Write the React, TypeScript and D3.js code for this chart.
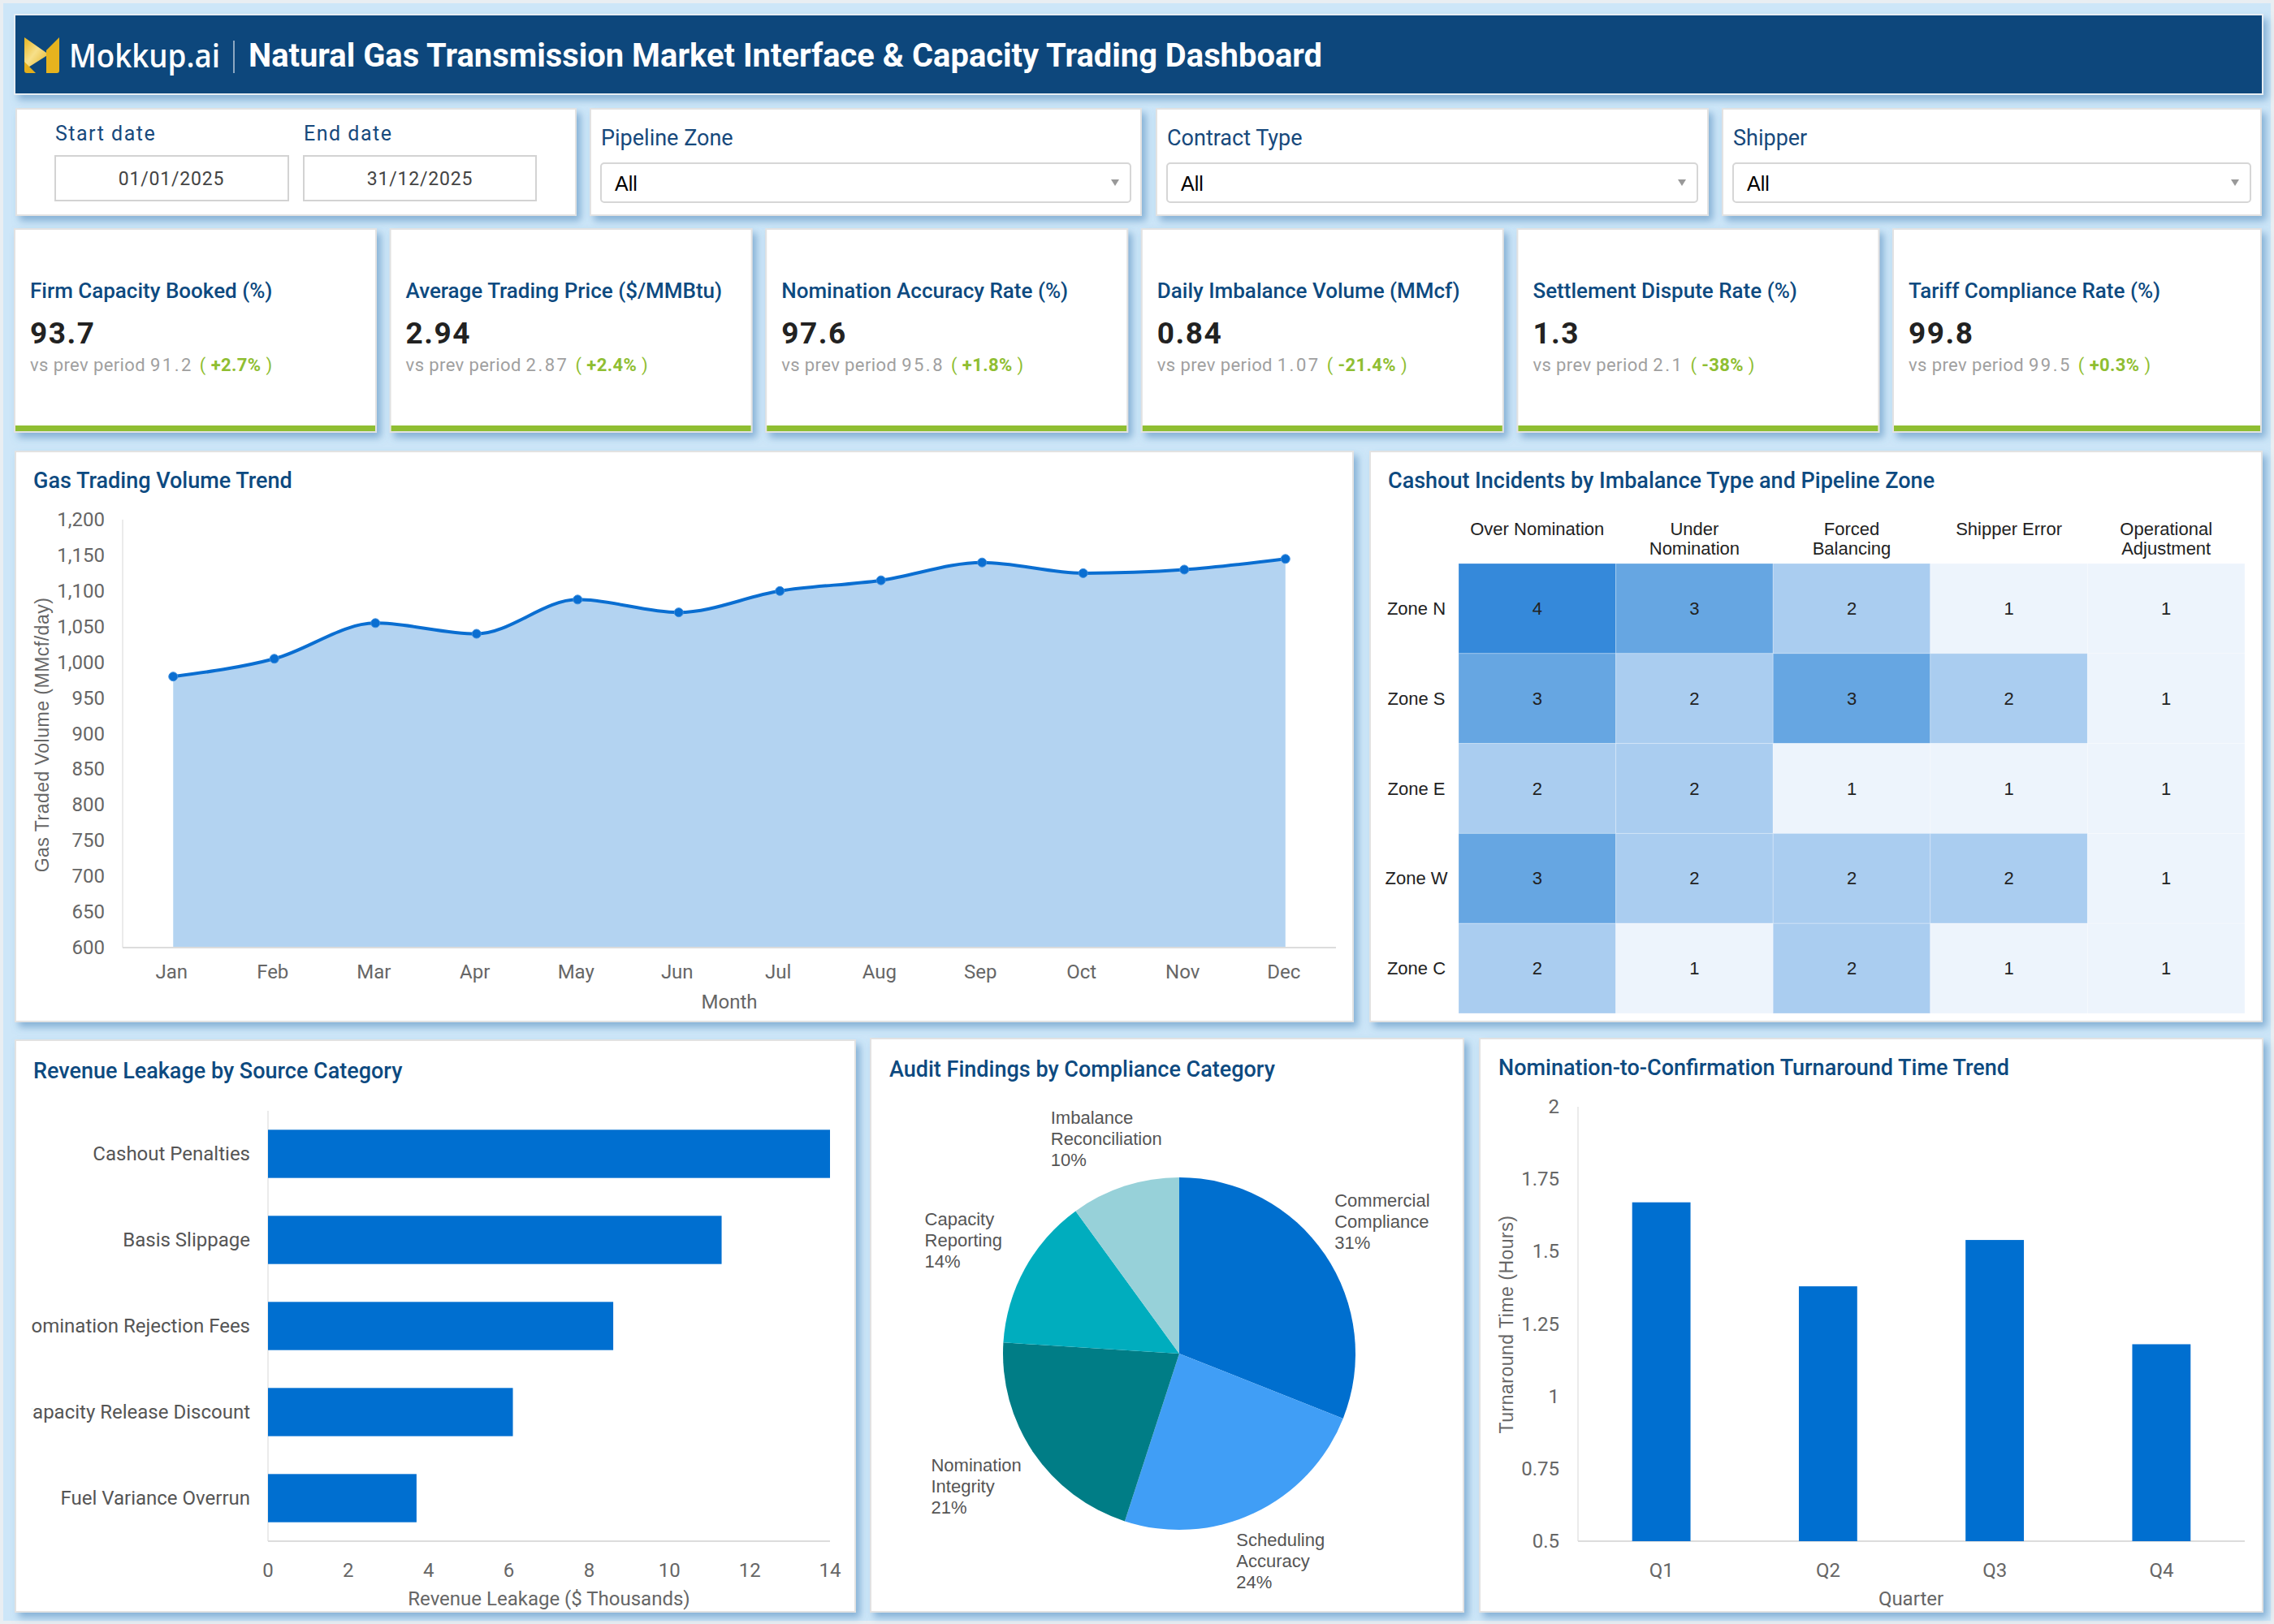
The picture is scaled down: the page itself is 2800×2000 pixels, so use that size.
import React from 'react';
import * as d3 from 'd3';

// ---------------- DATA ----------------
const kpiTitles = [
  'Firm Capacity Booked (%)',
  'Average Trading Price ($/MMBtu)',
  'Nomination Accuracy Rate (%)',
  'Daily Imbalance Volume (MMcf)',
  'Settlement Dispute Rate (%)',
  'Tariff Compliance Rate (%)',
];
const kpiValues = ['93.7', '2.94', '97.6', '0.84', '1.3', '99.8'];
const kpiPrev = ['91.2', '2.87', '95.8', '1.07', '2.1', '99.5'];
const kpiChange = ['+2.7%', '+2.4%', '+1.8%', '-21.4%', '-38%', '+0.3%'];

const filterLabels = ['Pipeline Zone', 'Contract Type', 'Shipper'];
const startDate = '01/01/2025';
const endDate = '31/12/2025';

const months = ['Jan', 'Feb', 'Mar', 'Apr', 'May', 'Jun', 'Jul', 'Aug', 'Sep', 'Oct', 'Nov', 'Dec'];
const tradingVolume = [980, 1005, 1055, 1040, 1088, 1070, 1100, 1115, 1140, 1125, 1130, 1145];
const volumeTicks = [600, 650, 700, 750, 800, 850, 900, 950, 1000, 1050, 1100, 1150, 1200];

const imbalanceTypes = ['Over Nomination', 'Under Nomination', 'Forced Balancing', 'Shipper Error', 'Operational Adjustment'];
const imbalanceHeaderLines = [['Over Nomination'], ['Under', 'Nomination'], ['Forced', 'Balancing'], ['Shipper Error'], ['Operational', 'Adjustment']];
const zones = ['Zone N', 'Zone S', 'Zone E', 'Zone W', 'Zone C'];
const cashoutCounts = [
  [4, 3, 2, 1, 1],
  [3, 2, 3, 2, 1],
  [2, 2, 1, 1, 1],
  [3, 2, 2, 2, 1],
  [2, 1, 2, 1, 1],
];

const leakageCategories = ['Cashout Penalties', 'Basis Slippage', 'Nomination Rejection Fees', 'Capacity Release Discount', 'Fuel Variance Overrun'];
const leakageValues = [14.0, 11.3, 8.6, 6.1, 3.7];
const leakageTicks = [0, 2, 4, 6, 8, 10, 12, 14];

const auditCategories = ['Commercial Compliance', 'Scheduling Accuracy', 'Nomination Integrity', 'Capacity Reporting', 'Imbalance Reconciliation'];
const auditShares = [31, 24, 21, 14, 10];
const auditColors = ['#006fcf', '#409ef6', '#007d86', '#00adbe', '#97d1d9'];

const quarters = ['Q1', 'Q2', 'Q3', 'Q4'];
const turnaroundHours = [1.67, 1.38, 1.54, 1.18];
const turnaroundTicks = [0.5, 0.75, 1, 1.25, 1.5, 1.75, 2];

// ---------------- STYLE ----------------
const TITLE_BLUE = '#0d4a80';
const AXIS_GREY = '#666666';
const ROBOTO = 'Roboto, "Noto Sans", sans-serif';
const ARIAL = '"Liberation Sans", Arial, sans-serif';

let _ctx: CanvasRenderingContext2D | null = null;
function measure(text: string, font: string): number {
  if (!_ctx) _ctx = document.createElement('canvas').getContext('2d');
  if (!_ctx) return text.length * 11;
  _ctx.font = font;
  return _ctx.measureText(text).width;
}

function Card({ x, y, w, h }: { x: number; y: number; w: number; h: number }) {
  return <rect x={x} y={y} width={w} height={h} fill="#ffffff" stroke="#e2e2e2" strokeWidth={2} filter="url(#shadow)" />;
}

function CardTitle({ x, y, text }: { x: number; y: number; text: string }) {
  return (
    <text x={x} y={y} fontFamily={ROBOTO} fontSize={27} fontWeight={500} fill={TITLE_BLUE}>
      {text}
    </text>
  );
}

function Header() {
  return (
    <g>
      <rect x={18} y={18} width={2768} height={98} fill="#0d477c" stroke="#e6edf3" strokeWidth={2} filter="url(#shadow)" />
      <defs>
        <linearGradient id="gold" x1="0" y1="0" x2="1" y2="1">
          <stop offset="0" stopColor="#e6b31e" />
          <stop offset="0.45" stopColor="#f7e08a" />
          <stop offset="1" stopColor="#e2ae1c" />
        </linearGradient>
      </defs>
      <path d="M30,46 L60,67 L30,86 Z" fill="url(#gold)" />
      <path d="M30,76 L44,90 L33,90 Q30,90 30,87 Z" fill="#e2ae1c" />
      <path d="M57,62 L73,46 L73,87 Q73,90 70,90 L57,90 Z" fill="#e6b31e" />
      <text x={85} y={83} fontFamily='"Open Sans", "Noto Sans", sans-serif' fontSize={40} fontWeight={600} fill="#ffffff" textLength={186} lengthAdjust="spacingAndGlyphs">
        Mokkup.ai
      </text>
      <line x1={288} x2={288} y1={50} y2={90} stroke="#ffffff" strokeOpacity={0.7} strokeWidth={1.5} />
      <text x={306} y={82} fontFamily={ROBOTO} fontSize={40} fontWeight={700} fill="#ffffff" textLength={1322} lengthAdjust="spacingAndGlyphs">
        Natural Gas Transmission Market Interface &amp; Capacity Trading Dashboard
      </text>
    </g>
  );
}

function Filters() {
  const cards = [
    { x: 727, w: 678 },
    { x: 1424, w: 679 },
    { x: 2121, w: 663 },
  ];
  return (
    <g>
      <Card x={20} y={134} w={689} h={131} />
      <text x={68} y={173} fontFamily={ROBOTO} fontSize={25} fill="#17497c" letterSpacing={1.5}>Start date</text>
      <text x={374} y={173} fontFamily={ROBOTO} fontSize={25} fill="#17497c" letterSpacing={1.5}>End date</text>
      <rect x={68} y={192} width={287} height={55} fill="#fff" stroke="#d3d3d3" strokeWidth={2} />
      <rect x={374} y={192} width={286} height={55} fill="#fff" stroke="#d3d3d3" strokeWidth={2} />
      <text x={211} y={228} textAnchor="middle" fontFamily={ROBOTO} fontSize={23} fill="#444" letterSpacing={0.8}>{startDate}</text>
      <text x={517} y={228} textAnchor="middle" fontFamily={ROBOTO} fontSize={23} fill="#444" letterSpacing={0.8}>{endDate}</text>
      {cards.map((c, i) => (
        <g key={i}>
          <Card x={c.x} y={134} w={c.w} h={131} />
          <text x={c.x + 13} y={179} fontFamily={ROBOTO} fontSize={27} fill="#17497c">{filterLabels[i]}</text>
          <rect x={c.x + 13} y={201} width={c.w - 26} height={48} rx={4} fill="#fff" stroke="#d6d6d6" strokeWidth={2} />
          <text x={c.x + 30} y={235} fontFamily={ARIAL} fontSize={25} fill="#000">All</text>
          <path d={`M${c.x + c.w - 37},221 l10,0 l-5,8 z`} fill="#999" />
        </g>
      ))}
    </g>
  );
}

function Kpis() {
  const step = (2331 - 18) / 5;
  return (
    <g>
      {kpiTitles.map((t, i) => {
        const x = 18 + i * step;
        const w = i === 5 ? 453 : 445;
        return (
          <g key={i}>
            <Card x={x} y={282} w={w} h={250} />
            <rect x={x + 1} y={524} width={w - 2} height={7} fill="#8fbe32" />
            <text x={x + 19} y={367} fontFamily={ROBOTO} fontSize={26} fontWeight={500} fill={TITLE_BLUE}>{t}</text>
            <text x={x + 19} y={423} fontFamily={ROBOTO} fontSize={37} fontWeight={700} fill="#222" letterSpacing={1.5}>{kpiValues[i]}</text>
            <text x={x + 19} y={457} fontFamily={ROBOTO} fontSize={22} fill="#a0a0a0" letterSpacing={0.4}>
              <tspan>vs prev period </tspan>
              <tspan letterSpacing={2.5}>{kpiPrev[i]}</tspan>
              <tspan fill="#8fbe32" dx={8}>( </tspan>
              <tspan fill="#8fbe32" fontWeight={700}>{kpiChange[i]}</tspan>
              <tspan fill="#8fbe32"> )</tspan>
            </text>
          </g>
        );
      })}
    </g>
  );
}

function LineChart() {
  const x = d3.scaleBand<string>().domain(months).range([151, 1645]);
  const y = d3.scaleLinear().domain([600, 1200]).range([1167, 640]);
  const cx = (m: string) => (x(m) as number) + x.bandwidth() / 2;
  const data = months.map((m, i) => ({ m, v: tradingVolume[i] }));
  const line = d3.line<{ m: string; v: number }>().x(d => cx(d.m)).y(d => y(d.v)).curve(d3.curveMonotoneX);
  const area = d3.area<{ m: string; v: number }>().x(d => cx(d.m)).y0(y(600)).y1(d => y(d.v)).curve(d3.curveMonotoneX);
  const fmt = d3.format(',');
  return (
    <g>
      <Card x={19} y={556} w={1647} h={702} />
      <CardTitle x={41} y={601} text="Gas Trading Volume Trend" />
      <path d={area(data) || ''} fill="#b3d3f1" />
      <line x1={151} x2={151} y1={640} y2={1167} stroke="#e4e4e4" strokeWidth={1.5} />
      <line x1={151} x2={1645} y1={1167} y2={1167} stroke="#dcdcdc" strokeWidth={2} />
      <path d={line(data) || ''} fill="none" stroke="#0a6ed1" strokeWidth={4} />
      {data.map(d => (
        <circle key={d.m} cx={cx(d.m)} cy={y(d.v)} r={5.5} fill="#0a6ed1" stroke="#3d8fe0" strokeWidth={1} />
      ))}
      {volumeTicks.map(t => (
        <text key={t} x={129} y={y(t) + 8} textAnchor="end" fontFamily={ROBOTO} fontSize={24} fill={AXIS_GREY}>{fmt(t)}</text>
      ))}
      {months.map(m => (
        <text key={m} x={cx(m) - 2} y={1205} textAnchor="middle" fontFamily={ROBOTO} fontSize={24} fill={AXIS_GREY}>{m}</text>
      ))}
      <text x={898} y={1242} textAnchor="middle" fontFamily={ROBOTO} fontSize={24} fill={AXIS_GREY}>Month</text>
      <text transform="translate(54,905) rotate(-90)" textAnchor="middle" dominantBaseline="middle" fontFamily={ARIAL} fontSize={23} fill={AXIS_GREY} letterSpacing={0.5}>
        Gas Traded Volume (MMcf/day)
      </text>
    </g>
  );
}

function Heatmap() {
  const x = d3.scaleBand<string>().domain(imbalanceTypes).range([1796, 2764]);
  const y = d3.scaleBand<string>().domain(zones).range([694, 1248]);
  const color = d3.scaleOrdinal<number, string>().domain([1, 2, 3, 4]).range(['#edf4fc', '#aacdf0', '#66a6e2', '#3589da']);
  return (
    <g>
      <Card x={1687} y={556} w={1098} h={702} />
      <CardTitle x={1709} y={601} text="Cashout Incidents by Imbalance Type and Pipeline Zone" />
      {imbalanceTypes.map((t, j) => (
        <text key={t} textAnchor="middle" fontFamily={ARIAL} fontSize={22} fill="#222">
          {imbalanceHeaderLines[j].map((ln, k) => (
            <tspan key={k} x={(x(t) as number) + x.bandwidth() / 2} y={659 + k * 24}>{ln}</tspan>
          ))}
        </text>
      ))}
      {zones.map((z, i) => (
        <g key={z}>
          <text x={1744} y={(y(z) as number) + y.bandwidth() / 2 + 7.5} textAnchor="middle" fontFamily={ARIAL} fontSize={22} fill="#222">{z}</text>
          {imbalanceTypes.map((t, j) => (
            <g key={t}>
              <rect x={x(t)} y={y(z)} width={x.bandwidth()} height={y.bandwidth()} fill={color(cashoutCounts[i][j])} stroke="#ffffff" strokeOpacity={0.25} strokeWidth={1} />
              <text x={(x(t) as number) + x.bandwidth() / 2} y={(y(z) as number) + y.bandwidth() / 2 + 7.5} textAnchor="middle" fontFamily={ARIAL} fontSize={22} fill="#222">
                {cashoutCounts[i][j]}
              </text>
            </g>
          ))}
        </g>
      ))}
    </g>
  );
}

function LeakageBars() {
  const x = d3.scaleLinear().domain([0, 14]).range([330, 1022]);
  const y = d3.scaleBand<string>().domain(leakageCategories).range([1368, 1898]).paddingInner(0.44).paddingOuter(0.22);
  return (
    <g>
      <Card x={19} y={1281} w={1034} h={704} />
      <CardTitle x={41} y={1328} text="Revenue Leakage by Source Category" />
      <defs>
        <clipPath id="leakClip">
          <rect x={39} y={1340} width={1000} height={640} />
        </clipPath>
      </defs>
      <line x1={330} x2={330} y1={1368} y2={1898} stroke="#e4e4e4" strokeWidth={1.5} />
      <line x1={330} x2={1022} y1={1898} y2={1898} stroke="#dcdcdc" strokeWidth={2} />
      {leakageCategories.map((c, i) => (
        <g key={c}>
          <rect x={x(0)} y={y(c)} width={x(leakageValues[i]) - x(0)} height={y.bandwidth()} fill="#006fd0" />
          <text clipPath="url(#leakClip)" x={308} y={(y(c) as number) + y.bandwidth() / 2 + 8} textAnchor="end" fontFamily={ROBOTO} fontSize={24} fill="#555">{c}</text>
        </g>
      ))}
      {leakageTicks.map(t => (
        <text key={t} x={x(t)} y={1942} textAnchor="middle" fontFamily={ROBOTO} fontSize={24} fill={AXIS_GREY}>{t}</text>
      ))}
      <text x={676} y={1977} textAnchor="middle" fontFamily={ROBOTO} fontSize={24} fill={AXIS_GREY}>Revenue Leakage ($ Thousands)</text>
    </g>
  );
}

function AuditPie() {
  const cx = 1452, cy = 1667, r = 217;
  const pie = d3.pie<number>().sort(null).value(d => d);
  const arcs = pie(auditShares);
  const arc = d3.arc<d3.PieArcDatum<number>>().innerRadius(0).outerRadius(r);
  const font = `22px ${ARIAL}`;
  return (
    <g>
      <Card x={1072} y={1279} w={730} h={706} />
      <CardTitle x={1095} y={1326} text="Audit Findings by Compliance Category" />
      <g transform={`translate(${cx},${cy})`}>
        {arcs.map((a, i) => (
          <path key={i} d={arc(a) || ''} fill={auditColors[i]} />
        ))}
      </g>
      {arcs.map((a, i) => {
        const mid = (a.startAngle + a.endAngle) / 2;
        const sx = Math.sin(mid), sy = -Math.cos(mid);
        const d = 278 + 22 * Math.abs(sx);
        const bx = cx + d * sx * 1.02, by = cy + d * sy * 0.98;
        const words = auditCategories[i].split(' ');
        const lines = [...words, `${auditShares[i]}%`];
        const w = Math.max(...lines.map(l => measure(l, font)));
        const left = bx - w / 2;
        return (
          <text key={i} fontFamily={ARIAL} fontSize={22} fill="#555">
            {lines.map((l, k) => (
              <tspan key={k} x={left} y={by + 8 + (k - 1) * 26}>{l}</tspan>
            ))}
          </text>
        );
      })}
    </g>
  );
}

function TurnaroundBars() {
  const x = d3.scaleBand<string>().domain(quarters).range([1943, 2764]).paddingInner(0.65).paddingOuter(0.325);
  const y = d3.scaleLinear().domain([0.5, 2]).range([1898, 1363]);
  return (
    <g>
      <Card x={1822} y={1279} w={964} h={706} />
      <CardTitle x={1845} y={1324} text="Nomination-to-Confirmation Turnaround Time Trend" />
      <line x1={1943} x2={1943} y1={1363} y2={1898} stroke="#e4e4e4" strokeWidth={1.5} />
      <line x1={1943} x2={2764} y1={1898} y2={1898} stroke="#dcdcdc" strokeWidth={2} />
      {quarters.map((q, i) => (
        <g key={q}>
          <rect x={x(q)} y={y(turnaroundHours[i])} width={x.bandwidth()} height={y(0.5) - y(turnaroundHours[i])} fill="#006fd0" />
          <text x={(x(q) as number) + x.bandwidth() / 2} y={1942} textAnchor="middle" fontFamily={ROBOTO} fontSize={24} fill={AXIS_GREY}>{q}</text>
        </g>
      ))}
      {turnaroundTicks.map(t => (
        <text key={t} x={1920} y={y(t) + 8} textAnchor="end" fontFamily={ROBOTO} fontSize={24} fill={AXIS_GREY}>{String(t)}</text>
      ))}
      <text x={2353} y={1977} textAnchor="middle" fontFamily={ROBOTO} fontSize={24} fill={AXIS_GREY}>Quarter</text>
      <text transform="translate(1857,1631) rotate(-90)" textAnchor="middle" dominantBaseline="middle" fontFamily={ARIAL} fontSize={23} fill={AXIS_GREY} letterSpacing={0.5}>
        Turnaround Time (Hours)
      </text>
    </g>
  );
}

export default function App() {
  return (
    <div style={{ position: 'absolute', left: 0, top: 0, width: 2800, height: 2000 }}>
      <svg width={2800} height={2000} viewBox="0 0 2800 2000" style={{ display: 'block' }}>
        <defs>
          <filter id="shadow" x="-5%" y="-5%" width="115%" height="120%">
            <feDropShadow dx={5} dy={6} stdDeviation={5} floodColor="#4a83b8" floodOpacity={0.55} />
          </filter>
        </defs>
        <rect x={0} y={0} width={2800} height={2000} fill="#e9eef2" />
        <rect x={4} y={4} width={2792} height={1992} fill="#cde6f8" />
        <Header />
        <Filters />
        <Kpis />
        <LineChart />
        <Heatmap />
        <LeakageBars />
        <AuditPie />
        <TurnaroundBars />
      </svg>
    </div>
  );
}
